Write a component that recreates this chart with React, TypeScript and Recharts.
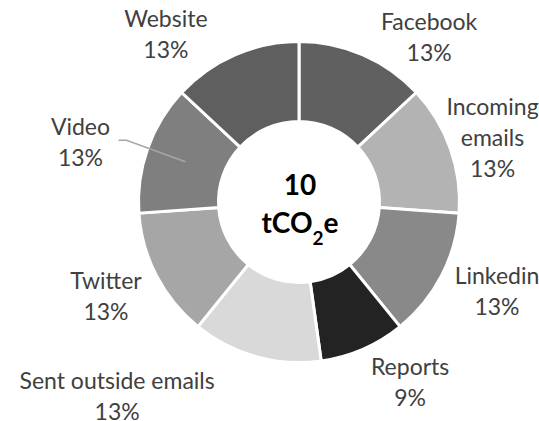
import React from "react";
import { PieChart, Pie, Cell, Label } from "recharts";

const categories = [
  "Facebook",
  "Incoming emails",
  "Linkedin",
  "Reports",
  "Sent outside emails",
  "Twitter",
  "Video",
  "Website",
];
// tCO2e per channel
const emissions = [1.3, 1.3, 1.3, 0.86, 1.3, 1.3, 1.3, 1.3];

const sliceColors = [
  "#606060",
  "#b3b3b3",
  "#898989",
  "#232323",
  "#d9d9d9",
  "#a6a6a6",
  "#7f7f7f",
  "#5f5f5f",
];

// hand-tuned label placement (offset from the default spot outside the ring)
const labelLayout: Record<string, { dx: number; dy: number; wrap?: boolean; leader?: boolean }> = {
  Facebook: { dx: 47, dy: 27 },
  "Incoming emails": { dx: -3, dy: 6, wrap: true },
  Linkedin: { dx: 13, dy: -7 },
  Reports: { dx: 28, dy: -11 },
  "Sent outside emails": { dx: -126, dy: -6 },
  Twitter: { dx: -8, dy: -2 },
  Video: { dx: -22, dy: 10, leader: true },
  Website: { dx: -50, dy: 24 },
};

const data = categories.map((name, i) => ({ name, value: emissions[i] }));
const total = emissions.reduce((a, b) => a + b, 0);

const CX = 299;
const CY = 202;
const FONT = "Lato, 'Open Sans', sans-serif";
const RAD = Math.PI / 180;

const renderLabel = (props: any) => {
  const { cx, cy, midAngle, outerRadius, innerRadius, percent, index } = props;
  const name = categories[index];
  const lay = labelLayout[name];
  const r = outerRadius + 48;
  const x = cx + r * Math.cos(-midAngle * RAD) + lay.dx;
  const ymid = cy + r * Math.sin(-midAngle * RAD) + lay.dy;
  const lines = lay.wrap ? name.split(" ") : [name];
  lines.push(Math.round(percent * 100) + "%");
  const lh = 31;
  const first = ymid - ((lines.length - 1) * lh) / 2 + 8;
  let leader = null;
  if (lay.leader) {
    const rm = (innerRadius + outerRadius) / 2;
    const ex = cx + rm * Math.cos(-midAngle * RAD);
    const ey = cy + rm * Math.sin(-midAngle * RAD);
    leader = (
      <path
        d={`M${x + 38},${ymid - 2}L${x + 46},${ymid - 2}L${ex},${ey}`}
        stroke="#a6a6a6"
        strokeWidth={1.5}
        fill="none"
      />
    );
  }
  return (
    <g key={`lbl-${index}`}>
      {leader}
      <text x={x} y={first} textAnchor="middle" fill="#404040" fontSize={23} fontFamily={FONT}>
        {lines.map((l, i) => (
          <tspan key={i} x={x} y={first + i * lh}>
            {l}
          </tspan>
        ))}
      </text>
    </g>
  );
};

const CenterText = () => (
  <g>
    <text x={CX + 1} y={195} textAnchor="middle" fontSize={28} fontWeight="bold" fill="#000" fontFamily={FONT}>
      {Math.round(total)}
    </text>
    <text x={CX + 1} y={233} textAnchor="middle" fontSize={28} fontWeight="bold" fill="#000" fontFamily={FONT}>
      <tspan>tCO</tspan>
      <tspan dy={12} fontSize={19}>2</tspan>
      <tspan dy={-12}>e</tspan>
    </text>
  </g>
);

export default function App() {
  return (
    <div style={{ position: "absolute", left: 0, top: 0, width: 539, height: 421, background: "#fff", fontFamily: FONT }}>
      <PieChart width={539} height={421} margin={{ top: 0, right: 0, bottom: 0, left: 0 }}>
        <Pie
          data={data}
          dataKey="value"
          nameKey="name"
          cx={CX}
          cy={CY}
          innerRadius={80.5}
          outerRadius={160.5}
          startAngle={90}
          endAngle={-270}
          stroke="#fff"
          strokeWidth={3}
          label={renderLabel}
          labelLine={false}
          isAnimationActive={false}
        >
          {data.map((d, i) => (
            <Cell key={d.name} fill={sliceColors[i]} />
          ))}
          <Label position="center" content={<CenterText />} />
        </Pie>
      </PieChart>
    </div>
  );
}
